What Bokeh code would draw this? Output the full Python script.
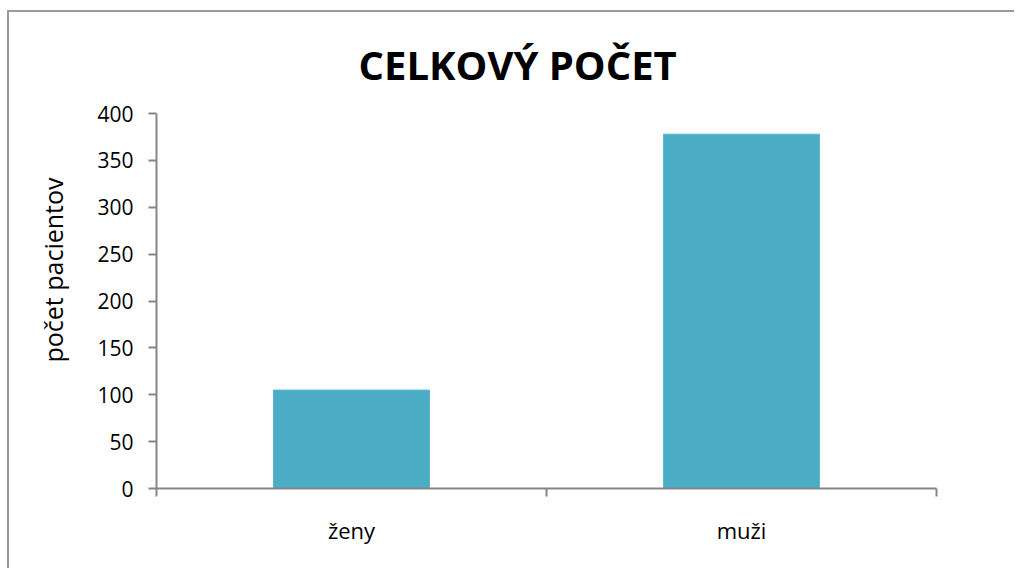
from bokeh.plotting import figure
from bokeh.models import ColumnDataSource, FixedTicker, Range1d, Title
from bokeh.embed import file_html
from bokeh.resources import INLINE

categories = ["ženy", "muži"]
counts = [105, 378]
y_ticks = [0, 50, 100, 150, 200, 250, 300, 350, 400]
title_text = "CELKOVÝ POČET"
y_label = "počet pacientov"

positions = [i + 0.5 for i in range(len(categories))]
src = ColumnDataSource(dict(x=positions, top=counts, cat=categories))

FONT = "Open Sans"
AXIS_COLOR = "#868686"

p = figure(width=1007, height=558, output_backend="svg", toolbar_location=None,
           x_range=Range1d(0, len(categories)), y_range=Range1d(0, 400),
           min_border_left=147, min_border_right=80, min_border_top=101, min_border_bottom=82,
           margin=(12, 0, 0, 9))
p.styles = {"box-shadow": "-2px -2px 0px 0px #9a9a9a"}
p.outline_line_color = None
p.background_fill_color = "white"
p.border_fill_color = "white"
p.xgrid.visible = False
p.ygrid.visible = False

p.vbar(x="x", top="top", width=0.4, bottom=0, source=src,
       fill_color="#4BACC6", line_color="#5DB6CE", line_width=1)

# y axis
p.yaxis.ticker = FixedTicker(ticks=y_ticks)
p.yaxis.axis_line_color = AXIS_COLOR
p.yaxis.axis_line_width = 2
p.yaxis.major_tick_line_color = AXIS_COLOR
p.yaxis.major_tick_line_width = 2
p.yaxis.major_tick_out = 8
p.yaxis.major_tick_in = 0
p.yaxis.minor_tick_line_color = None
p.yaxis.major_label_text_font = FONT
p.yaxis.major_label_text_font_size = "21px"
p.yaxis.major_label_text_color = "black"
p.yaxis.major_label_standoff = 15

# x axis
p.xaxis.ticker = FixedTicker(ticks=positions, minor_ticks=list(range(len(categories) + 1)))
p.xaxis.major_label_overrides = {pos: c for pos, c in zip(positions, categories)}
p.xaxis.axis_line_color = AXIS_COLOR
p.xaxis.axis_line_width = 2
p.xaxis.major_tick_line_color = None
p.xaxis.major_tick_out = 0
p.xaxis.major_tick_in = 0
p.xaxis.minor_tick_line_color = AXIS_COLOR
p.xaxis.minor_tick_line_width = 2
p.xaxis.minor_tick_out = 8
p.xaxis.minor_tick_in = 0
p.xaxis.major_label_text_font = FONT
p.xaxis.major_label_text_font_size = "22px"
p.xaxis.major_label_text_color = "black"
p.xaxis.major_label_standoff = 18

p.title = Title(text=title_text, align="left", offset=202, text_font=FONT,
                text_font_size="40px", text_font_style="bold", text_color="black",
                standoff=44)

ylab = Title(text=y_label, align="left", offset=126, text_font=FONT,
             text_font_size="25px", text_font_style="normal", text_color="black",
             standoff=49)
p.add_layout(ylab, "left")

open("out.html", "w").write(file_html(p, INLINE))
